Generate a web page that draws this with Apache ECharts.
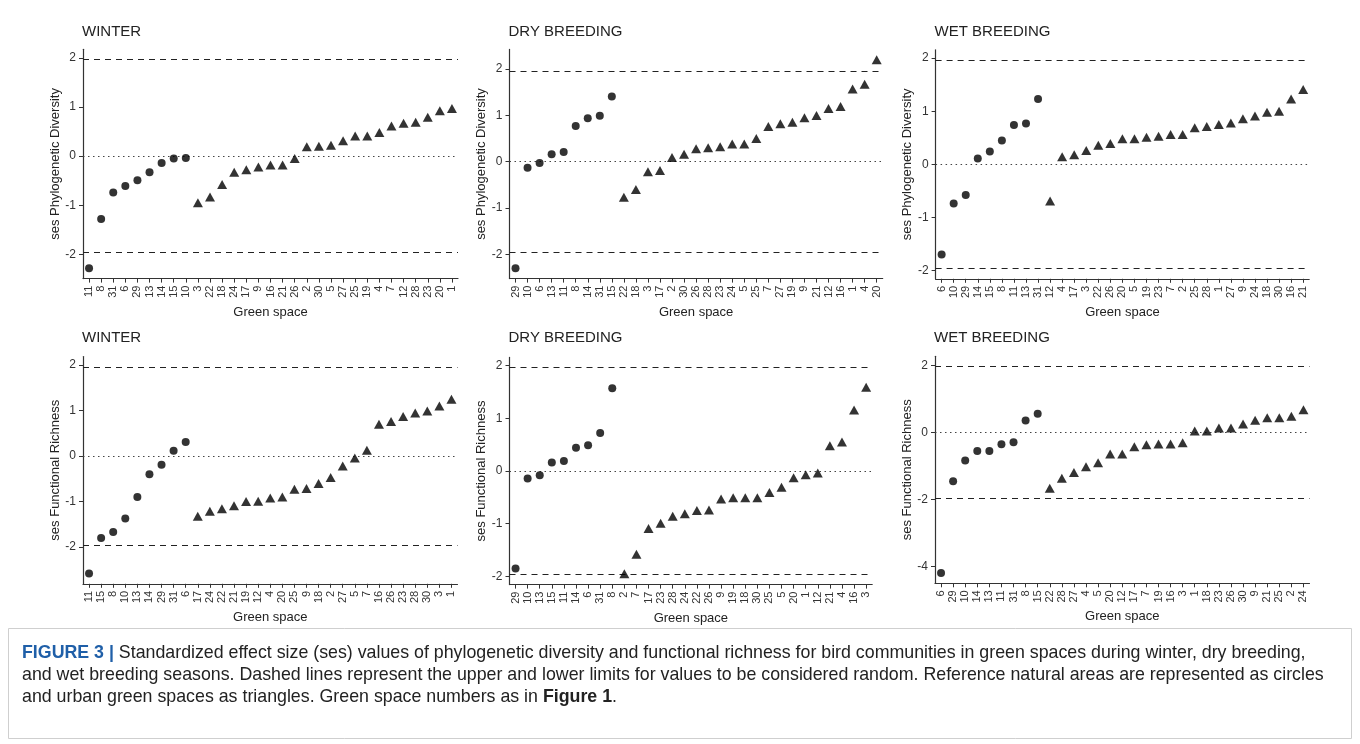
<!DOCTYPE html>
<html><head><meta charset="utf-8">
<script src="https://cdn.jsdelivr.net/npm/echarts@6/dist/echarts.min.js"></script>
<style>html,body{margin:0;padding:0;background:#fff}#c{width:1360px;height:744px}</style>
</head><body><div id="c"></div>
<script>
// ---------- DATA ----------
// Phylogenetic diversity (top row)
const pdWinterSites = ['11','8','31','6','29','13','14','15','10','3','22','18','24','17','9','16','21','26','2','30','5','27','25','19','4','7','12','28','23','20','1'];
const pdWinterNatural = [-2.28,-1.28,-0.74,-0.61,-0.49,-0.33,-0.14,-0.05,-0.04];
const pdWinterUrban = [-0.95,-0.83,-0.58,-0.33,-0.28,-0.22,-0.18,-0.18,-0.05,0.19,0.20,0.22,0.31,0.41,0.41,0.48,0.61,0.67,0.69,0.79,0.92,0.97];

const pdDrySites = ['29','10','6','13','11','8','14','31','15','22','18','3','17','2','30','26','28','23','24','5','25','7','27','19','9','21','12','16','1','4','20'];
const pdDryNatural = [-2.30,-0.13,-0.03,0.16,0.21,0.77,0.94,0.99,1.41];
const pdDryUrban = [-0.77,-0.60,-0.22,-0.19,0.09,0.16,0.28,0.30,0.32,0.38,0.38,0.50,0.76,0.82,0.85,0.95,1.00,1.15,1.19,1.57,1.67,2.20];

const pdWetSites = ['6','10','29','14','15','8','11','13','31','12','4','17','3','22','26','20','5','19','23','7','2','25','28','1','27','9','24','18','30','16','21'];
const pdWetNatural = [-1.70,-0.74,-0.58,0.11,0.24,0.45,0.74,0.77,1.23];
const pdWetUrban = [-0.69,0.14,0.18,0.26,0.36,0.39,0.48,0.48,0.51,0.53,0.56,0.56,0.69,0.71,0.75,0.78,0.86,0.91,0.98,1.00,1.23,1.41];

// Functional richness (bottom row)
const frWinterSites = ['11','15','8','10','13','14','29','31','6','17','24','22','21','19','12','4','20','25','9','18','2','27','5','7','16','26','23','28','30','3','1'];
const frWinterNatural = [-2.58,-1.80,-1.67,-1.37,-0.90,-0.40,-0.19,0.12,0.31];
const frWinterUrban = [-1.32,-1.21,-1.16,-1.09,-1.00,-0.99,-0.92,-0.90,-0.73,-0.71,-0.60,-0.47,-0.22,-0.04,0.13,0.70,0.76,0.87,0.95,0.99,1.10,1.25];

const frDrySites = ['29','10','13','15','11','14','6','31','8','2','7','17','23','28','24','22','26','9','19','18','30','25','5','20','1','12','21','4','16','3'];
const frDryNatural = [-1.85,-0.14,-0.08,0.16,0.19,0.44,0.49,0.72,1.57];
const frDryUrban = [-1.95,-1.58,-1.09,-0.99,-0.86,-0.81,-0.75,-0.74,-0.53,-0.51,-0.51,-0.51,-0.41,-0.31,-0.13,-0.07,-0.04,0.48,0.55,1.16,1.59];

const frWetSites = ['6','29','10','14','13','11','31','8','15','22','28','27','4','5','20','12','17','7','19','16','3','1','18','23','26','30','9','21','25','2','24'];
const frWetNatural = [-4.20,-1.46,-0.84,-0.56,-0.56,-0.36,-0.30,0.35,0.55];
const frWetUrban = [-1.67,-1.37,-1.20,-1.03,-0.91,-0.65,-0.65,-0.43,-0.37,-0.35,-0.35,-0.31,0.04,0.04,0.13,0.13,0.25,0.36,0.43,0.43,0.48,0.67];

const panelTitles = ['WINTER','DRY BREEDING','WET BREEDING','WINTER','DRY BREEDING','WET BREEDING'];
const yNames = ['ses Phylogenetic Diversity','ses Phylogenetic Diversity','ses Phylogenetic Diversity','ses Functional Richness','ses Functional Richness','ses Functional Richness'];
const yTicks = [[-2,-1,0,1,2],[-2,-1,0,1,2],[-2,-1,0,1,2],[-2,-1,0,1,2],[-2,-1,0,1,2],[-4,-2,0,2]];
const randomLimit = 1.96;
const xName = 'Green space';

// ---------- LAYOUT ----------
const panels = [
  {sites: pdWinterSites, nat: pdWinterNatural, urb: pdWinterUrban, left: 83,    top: 49.3,  width: 375,   height: 229.3},
  {sites: pdDrySites,    nat: pdDryNatural,    urb: pdDryUrban,    left: 509.5, top: 49.4,  width: 373.2, height: 229.2},
  {sites: pdWetSites,    nat: pdWetNatural,    urb: pdWetUrban,    left: 935.6, top: 49.8,  width: 373.6, height: 229},
  {sites: frWinterSites, nat: frWinterNatural, urb: frWinterUrban, left: 83,    top: 356.6, width: 374.5, height: 227.2},
  {sites: frDrySites,    nat: frDryNatural,    urb: frDryUrban,    left: 509.5, top: 357.4, width: 362.7, height: 227.2},
  {sites: frWetSites,    nat: frWetNatural,    urb: frWetUrban,    left: 935,   top: 356.3, width: 374.5, height: 227}
];
const titleTops = [24, 24, 24, 330, 330, 330];

const FONT = '"Liberation Sans", Arial, Helvetica, sans-serif';
const grid = [], xAxis = [], yAxis = [], series = [], title = [];

panels.forEach((p, i) => {
  const all = p.nat.concat(p.urb);
  let lo = Math.min(Math.min(...all), -randomLimit);
  let hi = Math.max(Math.max(...all), randomLimit);
  const pad = (hi - lo) * 0.05;
  lo -= pad; hi += pad;
  grid.push({left: p.left, top: p.top, width: p.width, height: p.height, containLabel: false});
  title.push({text: panelTitles[i], left: p.left - 1, top: titleTops[i], padding: 0,
    textStyle: {fontFamily: FONT, fontSize: 15, fontWeight: 'normal', color: '#222'}});
  xAxis.push({
    type: 'category', gridIndex: i, data: p.sites, boundaryGap: true,
    name: xName, nameLocation: 'middle', nameGap: 27,
    nameTextStyle: {fontFamily: FONT, fontSize: 13, color: '#222'},
    axisLine: {show: true, onZero: false, lineStyle: {color: '#333', width: 1.2}},
    axisTick: {show: true, alignWithLabel: true, interval: 0, length: 4, lineStyle: {color: '#333'}},
    axisLabel: {interval: 0, rotate: 90, fontFamily: FONT, fontSize: 11, color: '#333', margin: 7},
    splitLine: {show: false}
  });
  yAxis.push({
    type: 'value', gridIndex: i, min: lo, max: hi,
    name: yNames[i], nameLocation: 'middle', nameGap: 20, nameRotate: 90,
    nameTextStyle: {fontFamily: FONT, fontSize: 13, color: '#222'},
    axisLine: {show: true, lineStyle: {color: '#333', width: 1.2}},
    axisTick: {show: true, length: 4, customValues: yTicks[i], lineStyle: {color: '#333'}},
    axisLabel: {customValues: yTicks[i], fontFamily: FONT, fontSize: 12, color: '#333', margin: 7,
      formatter: v => String(Math.round(v))},
    splitLine: {show: false}
  });
  series.push({
    type: 'scatter', xAxisIndex: i, yAxisIndex: i, symbol: 'circle', symbolSize: 8,
    itemStyle: {color: '#000'}, z: 3,
    data: p.nat.map((v, k) => [k, v]),
    markLine: {
      silent: true, symbol: ['none', 'none'], label: {show: false}, z: 1,
      data: [
        {yAxis: randomLimit, lineStyle: {type: [6, 5], color: '#222', width: 1}},
        {yAxis: -randomLimit, lineStyle: {type: [6, 5], color: '#222', width: 1}},
        {yAxis: 0, lineStyle: {type: [1.5, 3.5], color: '#444', width: 1}}
      ]
    }
  });
  series.push({
    type: 'scatter', xAxisIndex: i, yAxisIndex: i, symbol: 'triangle', symbolSize: [10, 9],
    itemStyle: {color: '#000'}, z: 3,
    data: p.urb.map((v, k) => [k + p.nat.length, v])
  });
});

const capFont = 17.8;
const capLines = [
  '{b|FIGURE 3 |} Standardized effect size (ses) values of phylogenetic diversity and functional richness for bird communities in green spaces during winter, dry breeding,',
  'and wet breeding seasons. Dashed lines represent the upper and lower limits for values to be considered random. Reference natural areas are represented as circles',
  'and urban green spaces as triangles. Green space numbers as in {k|Figure 1}.'
];
const graphic = [
  {type: 'rect', shape: {x: 8.5, y: 628.5, width: 1343, height: 110}, style: {fill: 'none', stroke: '#cfcfcf', lineWidth: 1}}
];
capLines.forEach((t, i) => {
  graphic.push({type: 'text', x: 22, y: 644 + i * 22,
    style: {text: t, fontFamily: FONT, fontSize: capFont, fill: '#222',
      rich: {b: {fontWeight: 'bold', fill: '#1f5fa8', fontFamily: FONT, fontSize: capFont},
             k: {fontWeight: 'bold', fill: '#222', fontFamily: FONT, fontSize: capFont}}}});
});

const chart = echarts.init(document.getElementById('c'), null, {renderer: 'canvas'});
chart.setOption({
  animation: false, backgroundColor: '#fff',
  title, grid, xAxis, yAxis, series, graphic
});
</script></body></html>
